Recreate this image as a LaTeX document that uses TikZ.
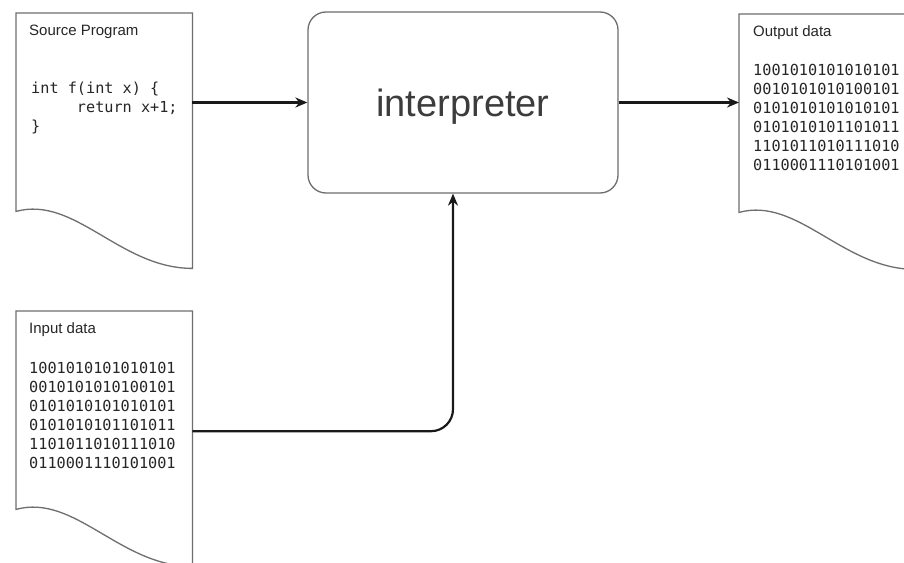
\documentclass[tikz,border=0pt]{standalone}
\usepackage{fontspec}
\setmainfont{Liberation Sans}
\setmonofont{DejaVu Sans Mono}
\usetikzlibrary{arrows.meta}

\definecolor{txtgray}{HTML}{262626}
\definecolor{linegray}{HTML}{6E6E6E}

\tikzset{
  docframe/.style={anchor=north west, minimum width=176pt, minimum height=198pt, inner sep=0pt},
  docline/.style={draw=linegray, line width=1.3pt},
  doctitle/.style={anchor=west, inner sep=0pt, text=txtgray, font=\fontsize{15}{18}\selectfont},
  doctext/.style={anchor=north west, inner sep=0pt, align=left, text=txtgray, font=\ttfamily\fontsize{15.2}{19}\selectfont},
  procbox/.style={draw=linegray, line width=1.3pt, rounded corners=18pt, minimum width=310pt, minimum height=181pt, text=txtgray!90, font=\fontsize{38}{40}\selectfont, text depth=0pt},
  flow/.style={line width=2.2pt, draw=black!90, -{Stealth[length=12pt,width=10pt]}}
}

% document outline with wavy bottom
\newcommand{\docoutline}[1]{%
  \draw[docline] (#1.north west) -- (#1.north east) -- ([shift={(0,57)}]#1.south east)
    .. controls ([shift={(104,57)}]#1.south west) and ([shift={(59,-16)}]#1.south west) .. (#1.south west) -- cycle;}

\begin{document}
\begin{tikzpicture}[x=1pt, y=-1pt]
        \useasboundingbox (0,0) rectangle (904,562);
        \clip (0,0) rectangle (904,562);
        \fill[white] (0,0) rectangle (904,562);

        % Nodes
        \node[docframe] (src) at (16,13) {};
        \node[docframe] (out) at (739,14) {};
        \node[docframe] (in) at (16,311) {};
        \node[procbox] (interp) at (463,102.5) {interpreter};

        \docoutline{src}
        \docoutline{out}
        \docoutline{in}

        % Texts
        \node[doctitle] (srctitle) at ([shift={(13,19)}]src.north west) {Source Program};
        \node[doctext] (srccode) at ([shift={(15,69)}]src.north west)
            {int f(int x) \{\\\phantom{xxxxx}return x+1;\\\}};
        \node[doctitle] (outtitle) at ([shift={(14,19)}]out.north west) {Output data};
        \node[doctext] (outbits) at ([shift={(14,50.5)}]out.north west)
            {1001010101010101\\0010101010100101\\0101010101010101\\0101010101101011\\1101011010111010\\0110001110101001};
        \node[doctitle] (intitle) at ([shift={(13,19)}]in.north west) {Input data};
        \node[doctext] (inbits) at ([shift={(13,51.5)}]in.north west)
            {1001010101010101\\0010101010100101\\0101010101010101\\0101010101101011\\1101011010111010\\0110001110101001};

        % Arrows
        \draw[flow] (src.east |- interp.west) -- (interp.west);
        \draw[flow] (interp.east) -- (out.west |- interp.east);
        \draw[flow, rounded corners=22pt] ([yshift=-21pt]in.east) -| ([xshift=-10pt]interp.south);
\end{tikzpicture}
\end{document}
